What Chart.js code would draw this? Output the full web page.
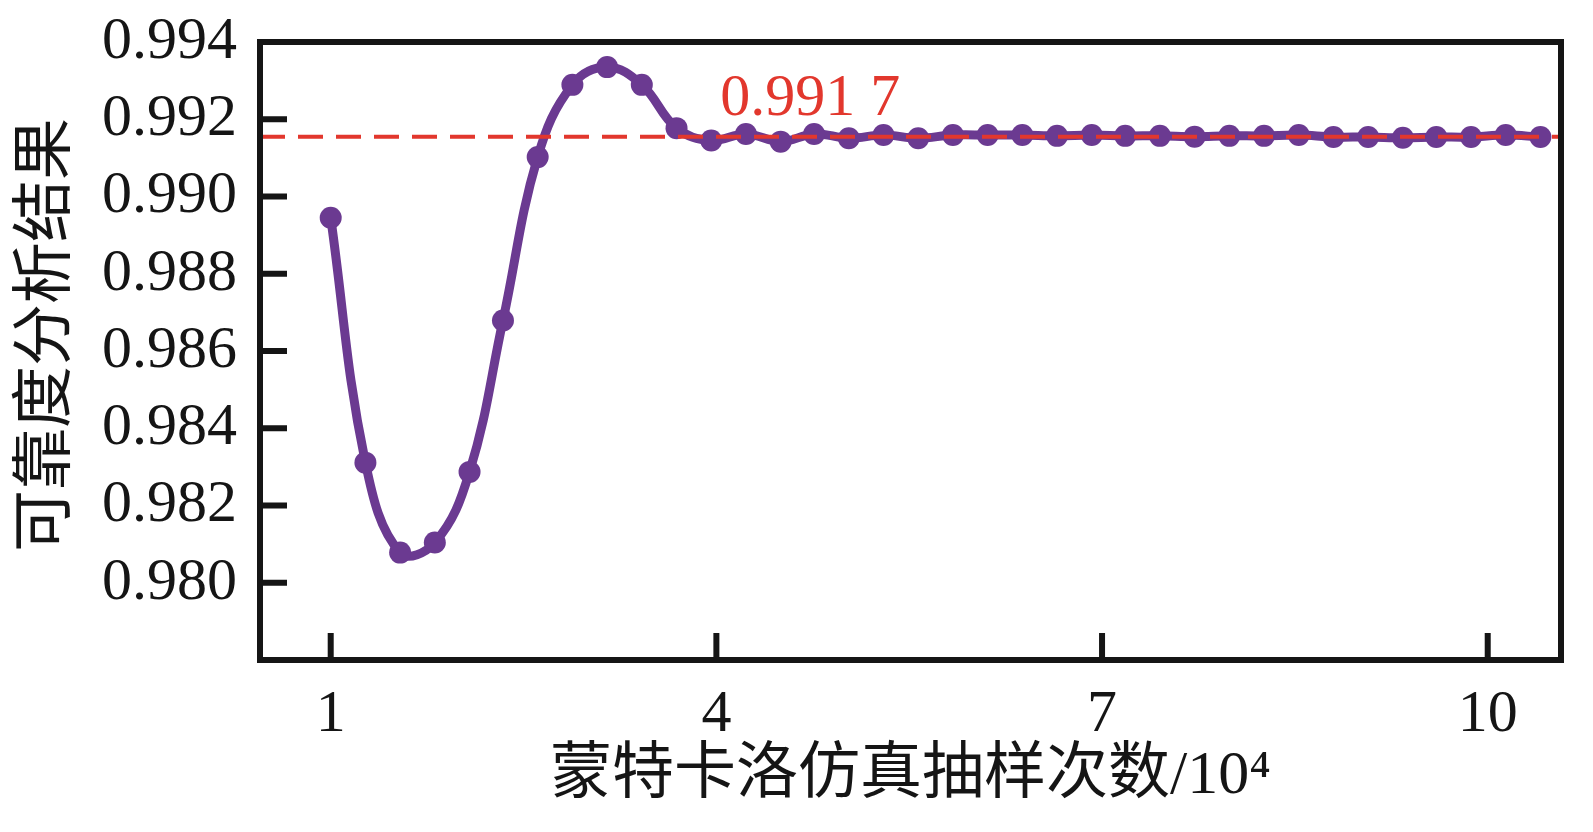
<!DOCTYPE html>
<html>
<head>
<meta charset="utf-8">
<script src="https://cdn.jsdelivr.net/npm/chart.js@4"></script>
<style>
  html, body { margin: 0; padding: 0; background: #fff; }
  #wrap { width: 1593px; height: 832px; }
</style>
</head>
<body>
<div id="wrap"><canvas id="chart" width="1593" height="832"></canvas></div>
<script>
// sampling count (x 10^4) and reliability result
const sampleCounts = [1.00, 1.27, 1.54, 1.81, 2.08, 2.34, 2.61, 2.88, 3.15, 3.42, 3.69, 3.96,
  4.23, 4.50, 4.76, 5.03, 5.30, 5.57, 5.84, 6.11, 6.38, 6.65, 6.92, 7.18,
  7.45, 7.72, 7.99, 8.26, 8.53, 8.80, 9.07, 9.34, 9.60, 9.87, 10.14, 10.41];
const reliability = [0.98945, 0.98311, 0.98078, 0.98104, 0.98287, 0.98679, 0.99102, 0.99289, 0.99335, 0.99289, 0.99177, 0.99145,
  0.99162, 0.99142, 0.99162, 0.99151, 0.99159, 0.99151, 0.99159, 0.99159, 0.99159, 0.99157, 0.99159, 0.99157,
  0.99157, 0.99155, 0.99157, 0.99157, 0.99159, 0.99154, 0.99154, 0.99152, 0.99154, 0.99154, 0.99159, 0.99154];
const meanLevel = 0.99155;
const meanLabel = "0.991 7";
const xTicks = [1, 4, 7, 10];
const yTicks = [0.980, 0.982, 0.984, 0.986, 0.988, 0.990, 0.992, 0.994];
const xRange = [0.45, 10.57];
const yRange = [0.978, 0.994];
const xTitle = "蒙特卡洛仿真抽样次数/10⁴";
const yTitle = "可靠度分析结果";

const serif = "'Liberation Serif', 'Times New Roman', 'Noto Sans CJK SC', serif";
const purple = "#6b3a91";
const red = "#e2372d";
const ink = "#151515";

const framePlugin = {
  id: "frame",
  afterDatasetsDraw(chart) {
    const { ctx, chartArea: a, scales: { x, y } } = chart;
    ctx.save();
    ctx.strokeStyle = ink;
    ctx.lineWidth = 6;
    ctx.strokeRect(a.left, a.top, a.right - a.left, a.bottom - a.top);
    ctx.beginPath();
    xTicks.forEach(v => {
      const px = x.getPixelForValue(v);
      ctx.moveTo(px, a.bottom);
      ctx.lineTo(px, a.bottom - 27);
    });
    yTicks.forEach(v => {
      const py = y.getPixelForValue(v);
      ctx.moveTo(a.left, py);
      ctx.lineTo(a.left + 27, py);
    });
    ctx.stroke();

    // mean value note
    ctx.fillStyle = red;
    ctx.font = "60px " + serif;
    ctx.textAlign = "left";
    ctx.textBaseline = "alphabetic";
    ctx.fillText(meanLabel, x.getPixelForValue(4.03), y.getPixelForValue(0.99211));

    // y title, rotated
    ctx.fillStyle = ink;
    ctx.font = "62px " + serif;
    ctx.textAlign = "center";
    ctx.textBaseline = "middle";
    ctx.translate(49, (a.top + a.bottom) / 2 - 16);
    ctx.rotate(-Math.PI / 2);
    ctx.fillText(yTitle, 0, 0);
    ctx.restore();
  }
};

new Chart(document.getElementById("chart"), {
  type: "line",
  data: {
    datasets: [
      {
        data: [{ x: xRange[0], y: meanLevel }, { x: xRange[1], y: meanLevel }],
        borderColor: red,
        borderWidth: 4,
        borderDash: [25, 13],
        pointRadius: 0,
        order: 0
      },
      {
        data: sampleCounts.map((c, i) => ({ x: c, y: reliability[i] })),
        borderColor: purple,
        backgroundColor: purple,
        borderWidth: 9,
        pointRadius: 11,
        pointBorderWidth: 0,
        pointBackgroundColor: purple,
        tension: 0.4,
        order: 1
      }
    ]
  },
  options: {
    responsive: false,
    animation: false,
    events: [],
    layout: { padding: { top: 42, right: 32, left: 0, bottom: 0 } },
    plugins: { legend: { display: false }, tooltip: { enabled: false } },
    scales: {
      x: {
        type: "linear",
        min: xRange[0],
        max: xRange[1],
        afterBuildTicks: s => { s.ticks = xTicks.map(v => ({ value: v })); },
        afterFit: s => { s.height = 172; s.paddingLeft = 0; s.paddingRight = 0; },
        grid: { display: false, drawTicks: false },
        border: { display: false },
        ticks: { padding: 19, color: ink, maxRotation: 0, autoSkip: false, font: { family: serif, size: 60 } },
        title: { display: true, text: xTitle, color: ink, font: { family: serif, size: 62, lineHeight: 1 }, padding: { top: 0, bottom: 24 } }
      },
      y: {
        type: "linear",
        min: yRange[0],
        max: yRange[1],
        afterBuildTicks: s => { s.ticks = yTicks.map(v => ({ value: v })); },
        afterFit: s => { s.width = 260; s.paddingTop = 0; s.paddingBottom = 0; },
        grid: { display: false, drawTicks: false },
        border: { display: false },
        ticks: { padding: 23, color: ink, font: { family: serif, size: 60 }, callback: v => v.toFixed(3) }
      }
    }
  },
  plugins: [framePlugin]
});
</script>
</body>
</html>
